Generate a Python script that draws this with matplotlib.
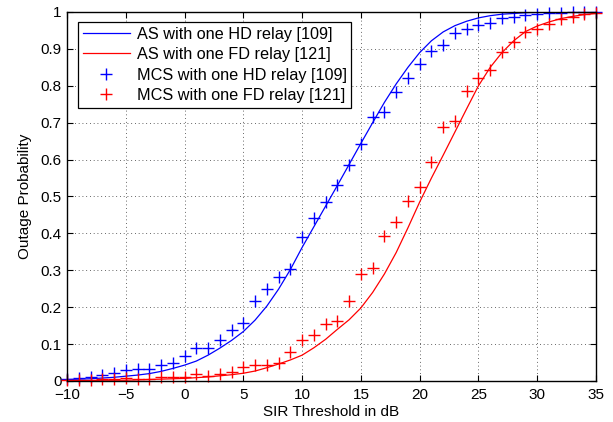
import matplotlib
matplotlib.use("Agg")
import matplotlib.pyplot as plt
import numpy as np

plt.rcParams['font.family'] = ['Liberation Sans', 'DejaVu Sans']

# SIR threshold (dB)
sir_db = list(range(-10, 36))

# Analytical curves (1 dB step)
as_hd = [0.004, 0.005, 0.006, 0.008, 0.010, 0.013, 0.016, 0.020, 0.026, 0.034,
         0.043, 0.054, 0.070, 0.089, 0.110, 0.134, 0.165, 0.203, 0.249, 0.302,
         0.362, 0.418, 0.474, 0.530, 0.587, 0.644, 0.700, 0.755, 0.805, 0.850,
         0.890, 0.922, 0.946, 0.963, 0.975, 0.984, 0.990, 0.994, 0.996, 0.998,
         0.999, 1.0, 1.0, 1.0, 1.0, 1.0]
as_fd = [0.001, 0.001, 0.001, 0.002, 0.002, 0.002, 0.003, 0.004, 0.005, 0.006,
         0.007, 0.009, 0.011, 0.014, 0.017, 0.021, 0.027, 0.036, 0.046, 0.057,
         0.070, 0.090, 0.113, 0.140, 0.166, 0.198, 0.240, 0.290, 0.348, 0.415,
         0.485, 0.550, 0.612, 0.675, 0.738, 0.800, 0.850, 0.890, 0.922, 0.947,
         0.962, 0.973, 0.982, 0.988, 0.993, 0.996]

# Monte Carlo simulation points
mcs_hd = [0.005, 0.008, 0.010, 0.016, 0.022, 0.030, 0.032, 0.032, 0.043, 0.050,
          0.068, 0.089, 0.089, 0.111, 0.138, 0.156, 0.216, 0.249, 0.283, 0.304,
          0.391, 0.443, 0.485, 0.530, 0.584, 0.642, 0.716, 0.730, 0.784, 0.822,
          0.859, 0.895, 0.911, 0.942, 0.954, 0.965, 0.971, 0.983, 0.987, 0.992,
          0.995, 0.996, 0.998, 0.999, 1.0, 1.0]
mcs_fd = [0.002, 0.003, 0.003, 0.005, 0.005, 0.007, 0.005, 0.006, 0.012, 0.010,
          0.012, 0.019, 0.014, 0.018, 0.023, 0.037, 0.043, 0.043, 0.050, 0.079,
          0.112, 0.125, 0.155, 0.163, 0.218, 0.289, 0.307, 0.393, 0.432, 0.489,
          0.527, 0.593, 0.689, 0.705, 0.787, 0.822, 0.842, 0.892, 0.918, 0.947,
          0.954, 0.967, 0.981, 0.986, 0.995, 0.998]

labels = ["AS with one HD relay [109]", "AS with one FD relay [121]",
          "MCS with one HD relay [109]", "MCS with one FD relay [121]"]

fig = plt.figure(figsize=(6.13, 4.22), dpi=100)
ax = fig.add_axes([0.1093, 0.0972, 0.8630, 0.8744])

ax.plot(sir_db, as_hd, color='#0000ff', lw=0.9, label=labels[0])
ax.plot(sir_db, as_fd, color='#ff0000', lw=0.9, label=labels[1])
ax.plot(sir_db, mcs_hd, ls='none', marker='+', color='#0000ff', ms=8, mew=1.0,
        label=labels[2], clip_on=False)
ax.plot(sir_db, mcs_fd, ls='none', marker='+', color='#ff0000', ms=8, mew=1.0,
        label=labels[3], clip_on=False)

ax.set_xlim(-10, 35)
ax.set_ylim(0, 1)
ax.set_xticks(np.arange(-10, 36, 5))
ax.set_yticks(np.arange(0, 1.01, 0.1))
ax.set_yticklabels(['0', '0.1', '0.2', '0.3', '0.4', '0.5', '0.6', '0.7', '0.8', '0.9', '1'])
ax.tick_params(direction='in', top=True, right=True, length=4, width=0.8,
               labelsize=11)
ax.tick_params(axis='x', pad=5)
ax.tick_params(axis='y', pad=4)
ax.grid(True, color='#333333', ls=(0, (1, 3.5)), lw=0.6)
for s in ax.spines.values():
    s.set_linewidth(1.0)
    s.set_color('black')

ax.set_xlabel('SIR Threshold in dB', fontsize=11, labelpad=2)
ax.set_ylabel('Outage Probability', fontsize=11, labelpad=6)

leg = ax.legend(loc='upper left', bbox_to_anchor=(0.0208, 0.973), fontsize=11.7,
                fancybox=False, framealpha=1, edgecolor='black',
                handlelength=2.9, handletextpad=0.4, borderpad=0.3,
                labelspacing=0.33, borderaxespad=0)
leg.get_frame().set_linewidth(0.9)

fig.savefig('out.png', dpi=100)
